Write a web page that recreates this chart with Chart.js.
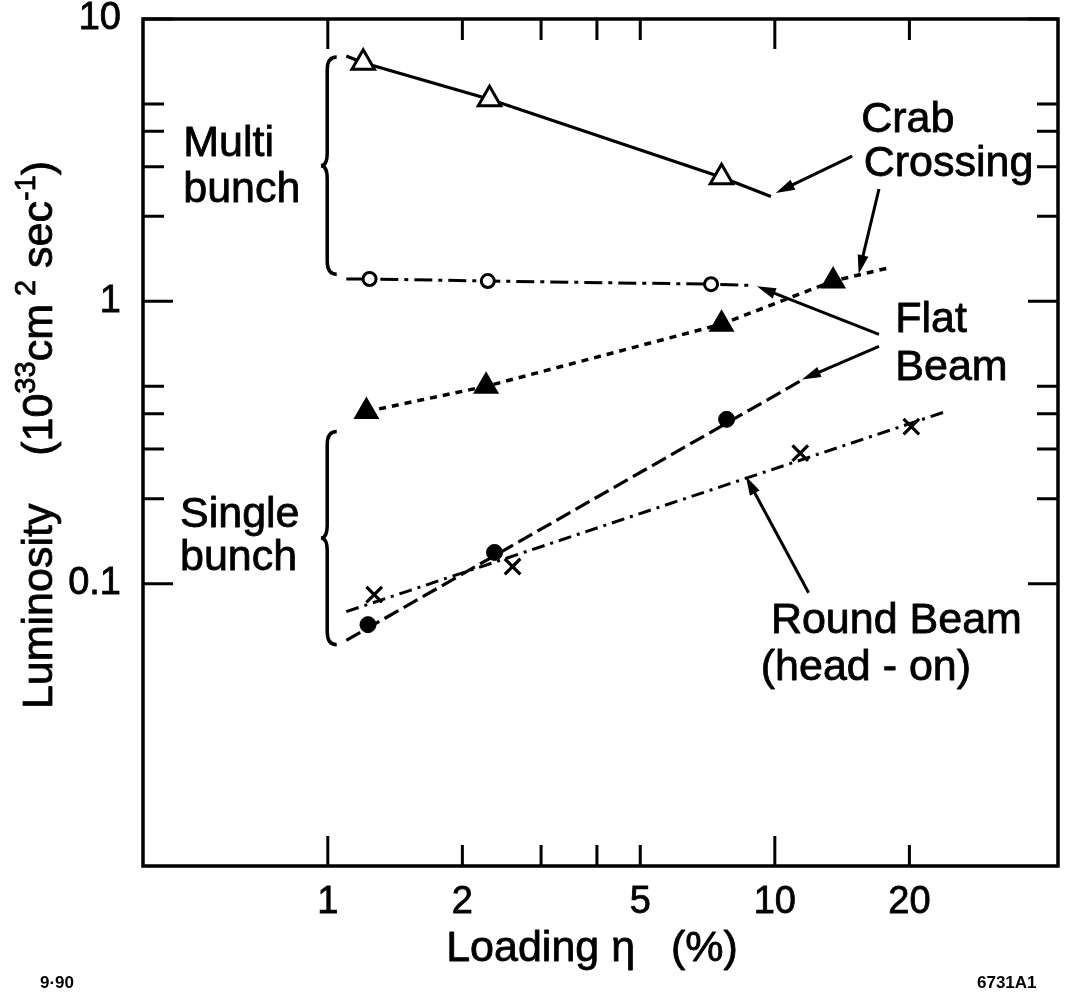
<!DOCTYPE html>
<html><head><meta charset="utf-8">
<script src="https://cdn.jsdelivr.net/npm/chart.js"></script>
<style>html,body{margin:0;padding:0;background:#fff;}#wrap{width:1074px;height:994px;}</style>
</head><body><div id="wrap"><canvas id="c" width="1074" height="994"></canvas></div>
<script>
const FONT = '"Liberation Sans", Arial, Helvetica, sans-serif';

// ---- data (Loading eta in %, Luminosity in 1e33 cm^-2 s^-1) ----
// Crab crossing, multi bunch (open triangles, solid)
const crabMultiX = [1.2, 2.3, 7.6];
const crabMultiY = [7.0, 5.2, 2.75];
const crabMultiLineX = [1.10, 1.2, 2.3, 7.6, 9.8];
const crabMultiLineY = [7.4, 7.0, 5.2, 2.75, 2.35];
// Flat beam, multi bunch (open circles, dash-dot)
const flatMultiX = [1.24, 2.28, 7.2];
const flatMultiY = [1.20, 1.18, 1.15];
const flatMultiLineX = [1.10, 1.24, 2.28, 7.2, 8.75];
const flatMultiLineY = [1.20, 1.20, 1.18, 1.15, 1.14];
// Crab crossing, single bunch (filled triangles, dotted)
const crabSingleX = [1.22, 2.26, 7.6, 13.5];
const crabSingleY = [0.407, 0.50, 0.83, 1.18];
const crabSingleLineX = [1.22, 2.26, 7.6, 13.5, 18.2];
const crabSingleLineY = [0.407, 0.50, 0.83, 1.18, 1.32];
// Flat beam, single bunch (filled circles, dashed)
const flatSingleX = [1.23, 2.36, 7.8];
const flatSingleY = [0.0716, 0.129, 0.382];
const flatSingleLineX = [1.10, 11.6];
const flatSingleLineY = [0.063, 0.53];
// Round beam head-on (crosses, dash-dot)
const roundX = [1.27, 2.59, 11.4, 20.2];
const roundY = [0.0914, 0.115, 0.29, 0.36];
const roundLineX = [1.10, 23.8];
const roundLineY = [0.0796, 0.404];

// ---- axes ----
const xTicks = [1, 2, 3, 4, 5, 10, 20];
const xTickLabels = {1: '1', 2: '2', 5: '5', 10: '10', 20: '20'};
const yTicks = [0.1, 0.2, 0.3, 0.4, 0.5, 1, 2, 3, 4, 5, 10];
const yTickLabels = {0.1: '0.1', 1: '1', 10: '10'};
const xMin = 0.386, xMax = 43, yMin = 0.01, yMax = 10;

// ---- annotations (data coordinates) ----
const notes = [
  ['Multi', 0.475, 3.27], ['bunch', 0.475, 2.24],
  ['Single', 0.467, 0.159], ['bunch', 0.467, 0.112],
  ['Crab', 15.6, 3.97], ['Crossing', 15.8, 2.77],
  ['Flat', 18.6, 0.776], ['Beam', 18.6, 0.525],
  ['Round Beam', 9.8, 0.067], ['(head - on)', 9.3, 0.0457]
];
const arrows = [
  [14.9, 3.27, 10.05, 2.42],
  [17.1, 2.50, 15.4, 1.25],
  [17.1, 0.764, 9.12, 1.13],
  [17.1, 0.692, 11.5, 0.529],
  [11.9, 0.0929, 8.61, 0.24]
];
const braces = [[1.047, 0.965, 7.33, 1.246], [1.047, 0.965, 0.346, 0.0608]];

function pts(xs, ys) { return xs.map((x, i) => ({x: x, y: ys[i]})); }

function lineDs(xs, ys, dash, w) {
  return {data: pts(xs, ys), showLine: true, borderColor: '#000', borderWidth: w || 3,
    borderDash: dash, pointRadius: 0, pointHoverRadius: 0, order: 2, tension: 0};
}
function markDs(xs, ys, style, r, fill, bw) {
  return {data: pts(xs, ys), showLine: false, pointStyle: style, pointRadius: r, pointHoverRadius: r,
    pointBackgroundColor: fill, pointBorderColor: '#000', pointBorderWidth: bw, order: 1};
}

function arrowTo(ctx, x1, y1, x2, y2) {
  const a = Math.atan2(y2 - y1, x2 - x1), L = 19, W = 5.5;
  ctx.beginPath(); ctx.moveTo(x1, y1);
  ctx.lineTo(x2 - (L - 4) * Math.cos(a), y2 - (L - 4) * Math.sin(a)); ctx.stroke();
  ctx.beginPath(); ctx.moveTo(x2, y2);
  ctx.lineTo(x2 - L * Math.cos(a) + W * Math.sin(a), y2 - L * Math.sin(a) - W * Math.cos(a));
  ctx.lineTo(x2 - L * Math.cos(a) - W * Math.sin(a), y2 - L * Math.sin(a) + W * Math.cos(a));
  ctx.closePath(); ctx.fill();
}
function drawBrace(ctx, xr, xl, yt, yb) {
  const ym = (yt + yb) / 2, xm = xl + (xr - xl) * 0.4, r = 13;
  ctx.beginPath();
  ctx.moveTo(xr, yt);
  ctx.quadraticCurveTo(xm, yt, xm, yt + r);
  ctx.lineTo(xm, ym - r);
  ctx.quadraticCurveTo(xm, ym, xl, ym);
  ctx.quadraticCurveTo(xm, ym, xm, ym + r);
  ctx.lineTo(xm, yb - r);
  ctx.quadraticCurveTo(xm, yb, xr, yb);
  ctx.stroke();
}
function txt(ctx, s, x, y) { ctx.strokeText(s, x, y); ctx.fillText(s, x, y); }
function richWidth(ctx, parts) {
  let w = 0;
  parts.forEach(p => { ctx.font = (p[1] ? '29px ' : '43px ') + FONT; w += ctx.measureText(p[0]).width; });
  return w;
}
function drawRich(ctx, parts, x, y) {
  parts.forEach(p => {
    ctx.font = (p[1] ? '29px ' : '43px ') + FONT;
    txt(ctx, p[0], x, p[1] ? y - 17 : y);
    x += ctx.measureText(p[0]).width;
  });
}

const decor = {
  id: 'decor',
  afterDatasetsDraw(chart) {
    const {ctx, chartArea: a, scales: {x, y}} = chart;
    const isMajor = v => Math.abs(Math.log10(v) - Math.round(Math.log10(v))) < 1e-9;
    ctx.save();
    ctx.strokeStyle = '#000'; ctx.fillStyle = '#000';
    // frame
    ctx.lineWidth = 3.5;
    ctx.strokeRect(a.left, a.top, a.right - a.left, a.bottom - a.top);
    // inward ticks on all four sides
    ctx.lineWidth = 3;
    xTicks.forEach(v => {
      const p = x.getPixelForValue(v), L = isMajor(v) ? 30 : 21;
      ctx.beginPath(); ctx.moveTo(p, a.bottom); ctx.lineTo(p, a.bottom - L);
      ctx.moveTo(p, a.top); ctx.lineTo(p, a.top + L); ctx.stroke();
    });
    yTicks.forEach(v => {
      const p = y.getPixelForValue(v), L = isMajor(v) ? 30 : 21;
      ctx.beginPath(); ctx.moveTo(a.left, p); ctx.lineTo(a.left + L, p);
      ctx.moveTo(a.right, p); ctx.lineTo(a.right - L, p); ctx.stroke();
    });
    // braces
    ctx.lineWidth = 3.5;
    braces.forEach(b => drawBrace(ctx, x.getPixelForValue(b[0]), x.getPixelForValue(b[1]),
      y.getPixelForValue(b[2]), y.getPixelForValue(b[3])));
    // arrows
    ctx.lineWidth = 3;
    arrows.forEach(r => arrowTo(ctx, x.getPixelForValue(r[0]), y.getPixelForValue(r[1]),
      x.getPixelForValue(r[2]), y.getPixelForValue(r[3])));
    // annotation text
    ctx.lineWidth = 0.8; ctx.lineJoin = 'round';
    ctx.font = '43px ' + FONT; ctx.textAlign = 'left'; ctx.textBaseline = 'alphabetic';
    notes.forEach(n => txt(ctx, n[0], x.getPixelForValue(n[1]), y.getPixelForValue(n[2])));
    // x title
    ctx.textAlign = 'center';
    txt(ctx, 'Loading \u03B7   (%)', 592, 961);
    // y title (rotated, with superscripts)
    const parts = [['Luminosity    (10', 0], ['33', 1], ['cm', 0], [' 2', 1], [' sec', 0], ['-1', 1], [')', 0]];
    ctx.textAlign = 'left';
    const w = richWidth(ctx, parts);
    ctx.save();
    ctx.translate(52, 435); ctx.rotate(-Math.PI / 2);
    drawRich(ctx, parts, -w / 2, 0);
    ctx.restore();
    // footer codes
    ctx.font = 'bold 17px ' + FONT;
    ctx.textAlign = 'left'; ctx.fillText('9\u00B790', 40, 988);
    ctx.fillText('6731A1', 977, 988);
    ctx.restore();
  }
};

Chart.defaults.font.family = FONT;
Chart.defaults.color = '#000';

function noPad(s) { s.paddingTop = 0; s.paddingBottom = 0; s.paddingLeft = 0; s.paddingRight = 0; }

new Chart(document.getElementById('c'), {
  type: 'scatter',
  data: {datasets: [
    lineDs(crabMultiLineX, crabMultiLineY, [], 3.2),
    markDs(crabMultiX, crabMultiY, 'triangle', 13, '#fff', 3),
    lineDs(flatMultiLineX, flatMultiLineY, [18, 6, 4, 6], 3),
    markDs(flatMultiX, flatMultiY, 'circle', 6.5, '#fff', 3),
    lineDs(crabSingleLineX, crabSingleLineY, [7, 6], 3.5),
    markDs(crabSingleX, crabSingleY, 'triangle', 13, '#000', 2),
    lineDs(flatSingleLineX, flatSingleLineY, [16, 6], 3.2),
    markDs(flatSingleX, flatSingleY, 'circle', 8, '#000', 1),
    lineDs(roundLineX, roundLineY, [13, 6, 3, 6], 3),
    markDs(roundX, roundY, 'crossRot', 11, '#000', 3.2)
  ]},
  options: {
    responsive: false, animation: false, devicePixelRatio: 1,
    layout: {padding: {top: 19, right: 14, left: 0, bottom: 0}},
    plugins: {legend: {display: false}, tooltip: {enabled: false}},
    scales: {
      x: {
        type: 'logarithmic', min: xMin, max: xMax,
        afterBuildTicks: s => { s.ticks = xTicks.map(v => ({value: v})); },
        afterFit: s => { s.height = 128; noPad(s); },
        grid: {display: false, drawTicks: false}, border: {display: false},
        ticks: {autoSkip: false, maxRotation: 0, padding: 18, textStrokeColor: '#000', textStrokeWidth: 0.8,
          font: {size: 38, lineHeight: 1}, callback: v => xTickLabels[v] || ''}
      },
      y: {
        type: 'logarithmic', min: yMin, max: yMax,
        afterBuildTicks: s => { s.ticks = yTicks.map(v => ({value: v})); },
        afterFit: s => { s.width = 143; noPad(s); },
        grid: {display: false, drawTicks: false}, border: {display: false},
        ticks: {autoSkip: false, padding: 22, textStrokeColor: '#000', textStrokeWidth: 0.8,
          font: {size: 38, lineHeight: 1}, callback: v => yTickLabels[v] || ''}
      }
    }
  },
  plugins: [decor]
});
</script>
</body></html>
